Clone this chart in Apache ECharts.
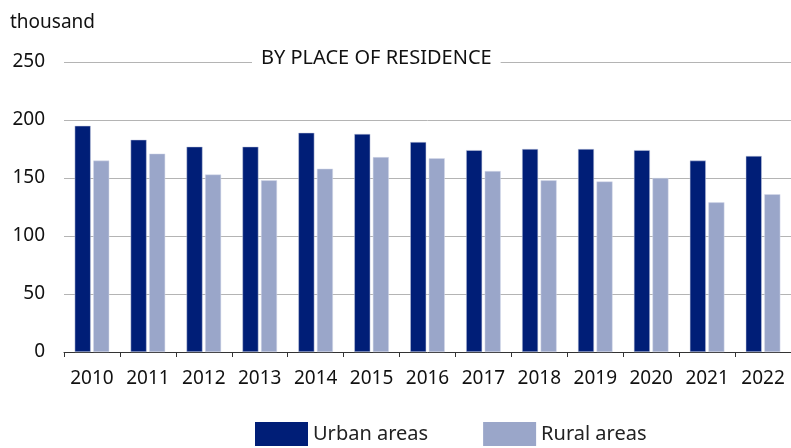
<!DOCTYPE html>
<html lang="en">
<head>
    <meta charset="UTF-8">
    <title>By place of residence</title>
    <script src="https://cdn.jsdelivr.net/npm/echarts@6/dist/echarts.min.js"></script>
</head>
<body style="margin:0">
<div id="main" style="width: 791px;height:448px;"></div>
<script type="text/javascript">
    // data
    var years = ['2010', '2011', '2012', '2013', '2014', '2015', '2016', '2017', '2018', '2019', '2020', '2021', '2022'];
    var urbanData = [195, 183, 177, 177, 189, 188, 181, 174, 175, 175, 174, 165, 169];
    var ruralData = [165, 171, 153, 148, 158, 168, 167, 156, 148, 147, 150, 129, 136];
    var yTicks = [0, 50, 100, 150, 200, 250];

    var font = '"Noto Sans", sans-serif';
    var myChart = echarts.init(document.getElementById('main'));
    var option = {
        backgroundColor: '#fff',
        animation: false,
        title: {
            text: 'BY PLACE OF RESIDENCE',
            left: 252,
            top: 46,
            backgroundColor: '#fff',
            padding: [2, 9, 2, 9],
            z: 20,
            textStyle: {
                fontFamily: font,
                fontWeight: 'normal',
                fontSize: 20,
                color: '#111'
            }
        },
        graphic: [
            {
                type: 'text',
                left: 10,
                top: 13,
                style: {
                    text: 'thousand',
                    font: '19px "Noto Sans", sans-serif',
                    fill: '#111'
                }
            }
        ],
        legend: {
            bottom: -3,
            left: 250,
            itemWidth: 53,
            itemHeight: 24,
            itemGap: 55,
            icon: 'rect',
            itemStyle: {borderWidth: 0},
            textStyle: {
                fontFamily: font,
                fontSize: 20,
                color: '#222'
            },
            data: ['Urban areas', 'Rural areas']
        },
        grid: {
            left: 64,
            right: -8,
            top: 62,
            bottom: 96,
            containLabel: false
        },
        xAxis: {
            type: 'category',
            data: years,
            axisLine: {lineStyle: {color: '#333'}},
            axisTick: {show: true, length: 5, lineStyle: {color: '#333'}},
            axisLabel: {
                interval: 0,
                fontFamily: font,
                fontSize: 19,
                color: '#111',
                margin: 17
            }
        },
        yAxis: {
            type: 'value',
            min: 0,
            max: yTicks[yTicks.length - 1],
            interval: 50,
            axisLine: {show: false},
            axisTick: {show: false},
            axisLabel: {
                fontFamily: font,
                fontSize: 19,
                color: '#111',
                margin: 19
            },
            splitLine: {lineStyle: {color: '#b4b4b4', width: 1}}
        },
        series: [
            {
                name: 'Urban areas',
                type: 'bar',
                barWidth: 16,
                barGap: '16%',
                itemStyle: {color: '#001e77', borderColor: '#c9cfe3', borderWidth: 0.5},
                data: urbanData
            },
            {
                name: 'Rural areas',
                type: 'bar',
                barWidth: 16,
                itemStyle: {color: '#9aa6c9', borderColor: '#d6dbea', borderWidth: 0.5},
                data: ruralData
            }
        ]
    };
    myChart.setOption(option);
</script>
</body>
</html>
